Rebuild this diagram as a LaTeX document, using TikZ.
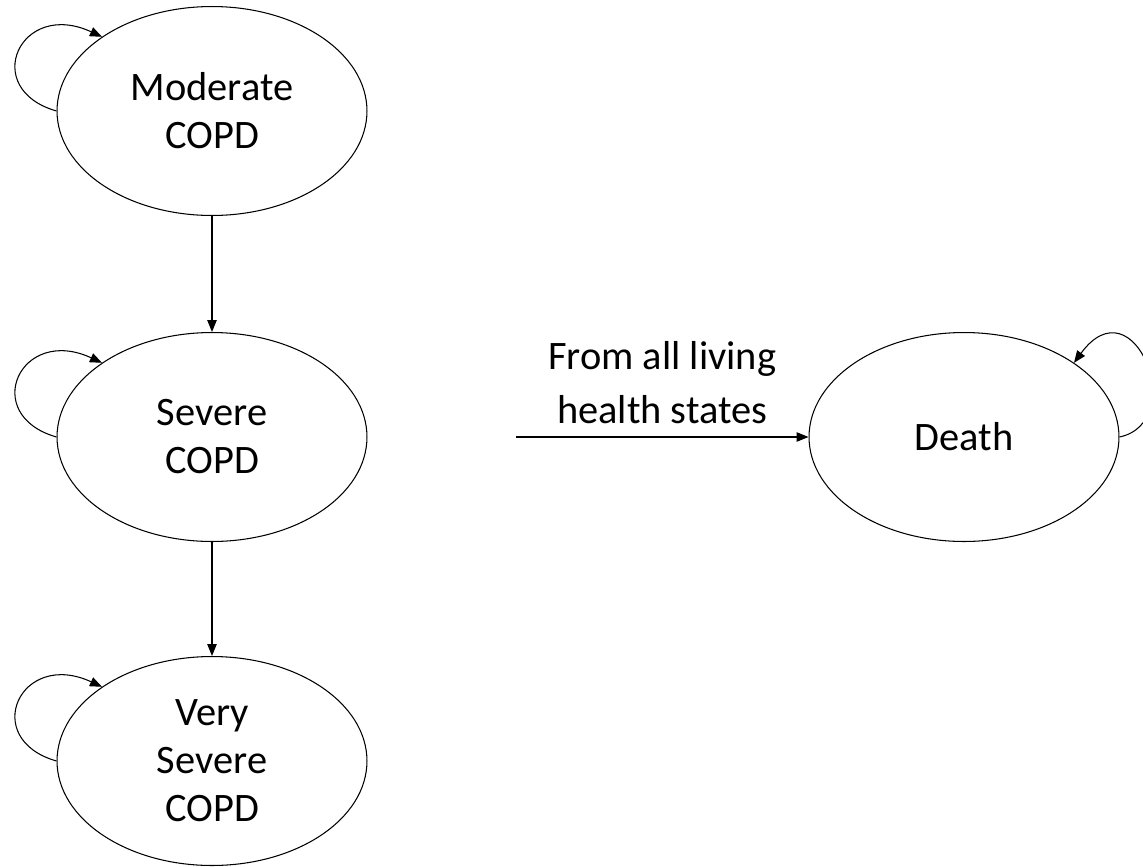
\documentclass[tikz,border=0pt]{standalone}
\usepackage{fontspec}
\setmainfont{Carlito}
\usetikzlibrary{arrows.meta,positioning,shapes.geometric}

\begin{document}
\begin{tikzpicture}[x=.02cm,y=-.02cm,line width=.6pt,
  state/.style={draw,ellipse,minimum width=6.2cm,minimum height=4.18cm,inner sep=0pt,align=center,font=\fontsize{23}{27.3}\selectfont},
  >={Triangle[length=.24cm,width=.19cm]}]
\useasboundingbox (0,0) rectangle (1143,866);
% health states
\node[state] (mod) at (212,111){Moderate\\COPD};
\node[state] (sev) at (212,437){Severe\\COPD};
\node[state] (vsev) at (212,761){Very\\Severe\\COPD};
\node[state] (death) at (964,437){Death};
\coordinate (living) at (516,437);
% transitions
\draw[->] (mod)--(sev);\draw[->] (sev)--(vsev);
\draw[->] (living)--node[above=4pt,align=center,font=\fontsize{23}{30.6}\selectfont]{From all living\\health states}(death);
% stay in state
\foreach \s in {mod,sev,vsev}
  \draw[->] (\s.west) .. controls +(-77,-22) and +(-82,-38) .. (\s.146);
\draw[->] (death.east) .. controls +(70,-15) and +(60,-82) .. (death.34);
\end{tikzpicture}
\end{document}
